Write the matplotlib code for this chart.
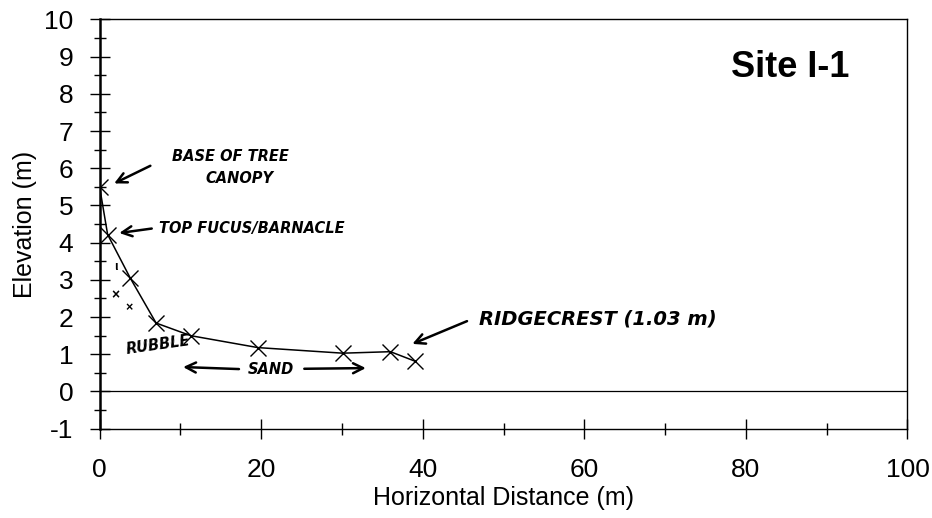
import matplotlib
matplotlib.use("Agg")
import matplotlib.pyplot as plt
from matplotlib.ticker import MultipleLocator

# Data
distance = [0, 1.0, 3.8, 7.0, 11.3, 19.6, 30.1, 36.0, 39.1]
elevation = [5.51, 4.22, 3.05, 1.84, 1.50, 1.18, 1.03, 1.07, 0.81]
title_text = "Site I-1"
x_label = "Horizontal Distance (m)"
y_label = "Elevation (m)"

plt.rcParams['font.family'] = ['Liberation Sans', 'DejaVu Sans']
plt.rcParams['axes.unicode_minus'] = False

fig = plt.figure(figsize=(9.32, 5.18), dpi=100)
ax = fig.add_axes([0.1068, 0.1724, 0.8669, 0.79])

ax.plot(distance, elevation, color='black', lw=1.1, marker='x',
        markersize=12, markeredgewidth=1.0, zorder=3)
ax.axhline(0, color='black', lw=0.9)

ax.set_xlim(0, 100)
ax.set_ylim(-1, 10)
ax.xaxis.set_major_locator(MultipleLocator(20))
ax.xaxis.set_minor_locator(MultipleLocator(10))
ax.yaxis.set_major_locator(MultipleLocator(1))
ax.yaxis.set_minor_locator(MultipleLocator(0.5))
ax.tick_params(which='major', direction='inout', length=14, width=1.0,
               labelsize=19)
ax.tick_params(which='minor', direction='inout', length=8, width=1.0)
ax.tick_params(axis='x', which='both', top=False)
ax.tick_params(axis='y', which='both', right=False)
ax.tick_params(axis='x', which='major', pad=14)
ax.tick_params(axis='y', which='major', pad=12)
for s in ['top', 'right', 'bottom']:
    ax.spines[s].set_linewidth(1.0)
ax.spines['left'].set_linewidth(1.8)

ax.set_xlabel(x_label, fontsize=18, labelpad=3)
ax.set_ylabel(y_label, fontsize=18, labelpad=5)

ax.text(85.5, 8.72, title_text, fontsize=26, fontweight='bold', ha='center', va='center')

hand = dict(fontsize=10.5, fontstyle='italic', fontweight='bold', family=['DejaVu Sans'])
arrow = dict(arrowstyle='->', lw=1.8, color='black', mutation_scale=18)

ax.annotate('', xy=(1.5, 5.56), xytext=(6.6, 6.1), arrowprops=arrow)
ax.text(9.0, 6.31, 'BASE OF TREE', ha='left', va='center', **hand)
ax.text(17.3, 5.72, 'CANOPY', ha='center', va='center', **hand)

ax.annotate('', xy=(2.1, 4.25), xytext=(6.8, 4.39), arrowprops=arrow)
ax.text(7.3, 4.39, 'TOP FUCUS/BARNACLE', ha='left', va='center', **hand)

ax.text(2.0, 3.35, 'ι', ha='center', va='center', fontsize=9, fontweight='bold')
ax.text(2.0, 2.6, '×', ha='center', va='center', fontsize=10, fontweight='bold')
ax.text(3.6, 2.25, '×', ha='center', va='center', fontsize=9, fontweight='bold')

ax.text(7.2, 1.25, 'RUBBLE', ha='center', va='center', rotation=8, **hand)

ax.annotate('', xy=(10.0, 0.66), xytext=(17.6, 0.60), arrowprops=arrow)
ax.text(21.2, 0.60, 'SAND', ha='center', va='center', **hand)
ax.annotate('', xy=(33.3, 0.63), xytext=(25.0, 0.61), arrowprops=arrow)

ax.annotate('', xy=(38.4, 1.25), xytext=(45.8, 1.92), arrowprops=arrow)
ax.text(47.0, 1.95, 'RIDGECREST (1.03 m)', ha='left', va='center',
        fontsize=14, fontstyle='italic', fontweight='bold', family=['DejaVu Sans'])

fig.savefig('out.png', dpi=100)
